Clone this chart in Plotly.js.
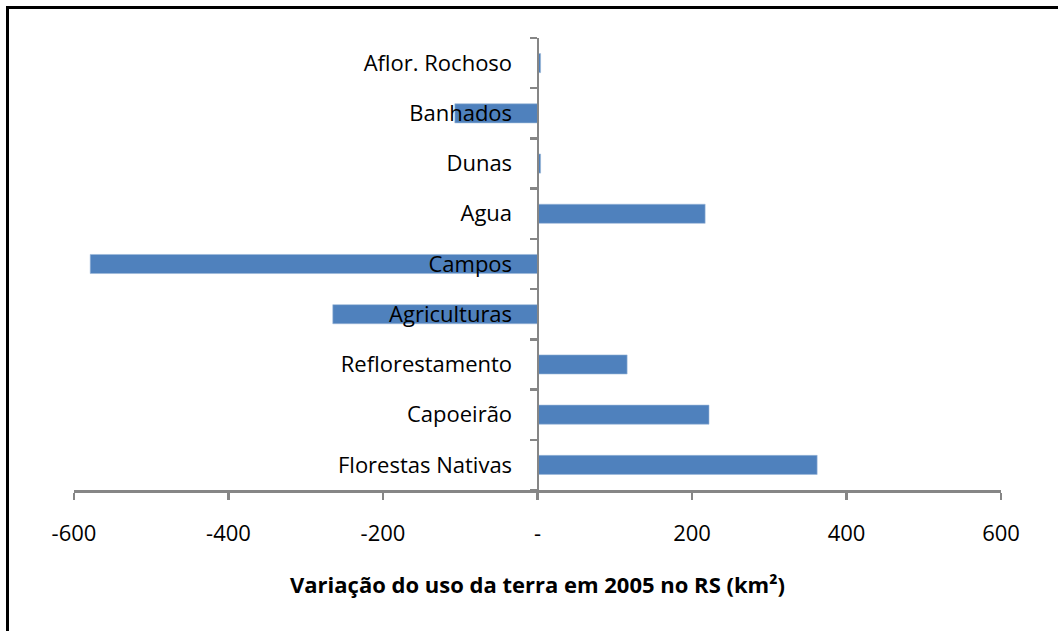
<!DOCTYPE html>
<html>
<head>
<meta charset="utf-8">
<script src="https://cdn.plot.ly/plotly-3.0.1.min.js"></script>
<style>
  body { margin: 0; background: #fff; }
  #chart { width: 1058px; height: 631px; }
  #frame {
    position: absolute; left: 6px; top: 6px; width: 1200px; height: 800px;
    border-top: 3px solid #000; border-left: 3px solid #000;
    pointer-events: none;
  }
</style>
</head>
<body>
<div id="chart"></div>
<div id="frame"></div>
<script>
// usos da terra (de baixo para cima, como no grafico)
var usos = ["Florestas Nativas", "Capoeirão", "Reflorestamento", "Agriculturas",
            "Campos", "Agua", "Dunas", "Banhados", "Aflor. Rochoso"]
// variacao em km2
var variacao = [362, 222, 116, -265, -579, 217, 4, -107, 4]

var xTicks = [-600, -400, -200, 0, 200, 400, 600]
var xTickText = ["-600", "-400", "-200", "-", "200", "400", "600"]

var corBarra = "#4f81bd"
var corEixo = "#868686"
var fonte = "Open Sans, sans-serif"

var data = [{
    type: 'bar',
    orientation: 'h',
    x: variacao,
    y: usos,
    marker: { color: corBarra, line: { color: "#9bb7d9", width: 0.6 } },
    hoverinfo: 'x+y'
}]

var layout = {
    width: 1058,
    height: 631,
    margin: { l: 74, r: 57, t: 38, b: 141 },
    paper_bgcolor: '#fff',
    plot_bgcolor: '#fff',
    showlegend: false,
    bargap: 0.62,
    font: { family: fonte, size: 22, color: '#000' },
    xaxis: {
        range: [-600, 600],
        tickmode: 'array',
        tickvals: xTicks,
        ticktext: xTickText,
        ticks: 'outside',
        ticklen: 7,
        tickwidth: 2.5,
        tickcolor: corEixo,
        showline: true,
        linecolor: corEixo,
        linewidth: 2.5,
        showgrid: false,
        zeroline: false,
        ticklabelstandoff: 15,
        title: {
            text: "Variação do uso da terra em 2005 no RS (km²)",
            font: { family: fonte, size: 22, weight: 'bold', color: '#000' },
            standoff: 32
        }
    },
    yaxis: {
        type: 'category',
        categoryorder: 'array',
        categoryarray: usos,
        anchor: 'free',
        position: 0.5,
        tickson: 'boundaries',
        ticks: 'outside',
        ticklen: 7,
        tickwidth: 2.5,
        tickcolor: corEixo,
        showline: true,
        linecolor: corEixo,
        linewidth: 2.5,
        showgrid: false,
        zeroline: false,
        ticklabelstandoff: 20
    }
}

var options = { displayModeBar: false, staticPlot: true }

Plotly.newPlot('chart', data, layout, options)
</script>
</body>
</html>
